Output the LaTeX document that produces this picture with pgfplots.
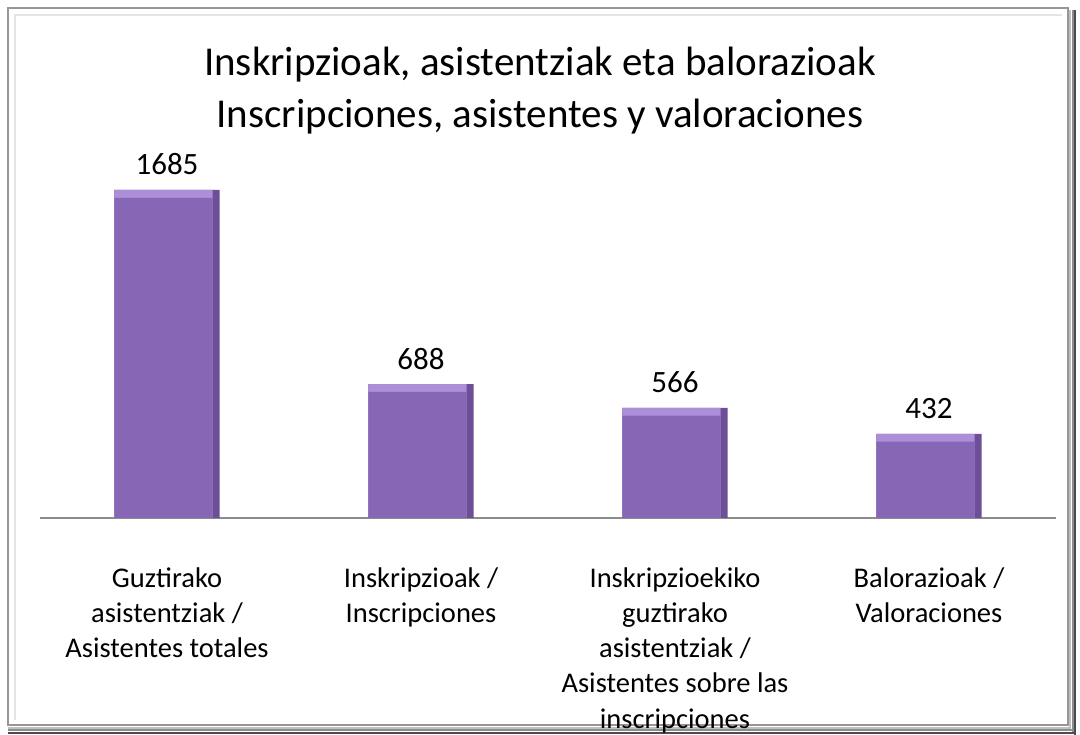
\documentclass[border=0pt]{standalone}
\usepackage{pgfplots}
\pgfplotsset{compat=1.18}
\usepackage{fontspec}
\setmainfont{Carlito}
\definecolor{barmain}{HTML}{8866B6}
\definecolor{barlight}{HTML}{AC8FD8}
\definecolor{bardark}{HTML}{6C4F96}
\definecolor{axisgray}{HTML}{8C8C8C}
\definecolor{frameg}{HTML}{969696}
\pgfdeclarelayer{bg}
\pgfsetlayers{bg,main}
\begin{document}
\begin{tikzpicture}
\begin{axis}[
  scale only axis, width=1016pt, height=350.4pt,
  xmin=-0.5, xmax=3.5, ymin=0, ymax=1800,
  axis x line=bottom, hide y axis,
  x axis line style={axisgray, line width=2.5pt, -},
  xtick={0,1,2,3}, xtick style={draw=none},
  xticklabels={{Guztirako\\asistentziak /\\Asistentes totales},{Inskripzioak /\\Inscripciones},{Inskripzioekiko\\guztirako\\asistentziak /\\Asistentes sobre las\\inscripciones},{Balorazioak /\\Valoraciones}},
  xticklabel style={align=center, font=\fontsize{28.5}{35.2}\selectfont, anchor=north, inner sep=0pt, yshift=-45pt},
  ybar, bar shift=0pt, bar width=105pt,
  /pgf/number format/assume math mode=true,
  /pgf/number format/1000 sep={},
  clip=false,
]
\addplot[draw=none, fill=bardark, nodes near coords,
  every node near coord/.append style={font=\fontsize{31}{36}\selectfont, anchor=base, yshift=15pt, text=black}]
  coordinates {(0,1685) (1,688) (2,566) (3,432)};
\addplot[draw=none, fill=barlight, bar width=98pt, bar shift=-3.5pt]
  coordinates {(0,1685) (1,688) (2,566) (3,432)};
\addplot[draw=none, fill=barmain, bar width=98pt, bar shift=-3.5pt]
  coordinates {(0,1645) (1,648) (2,526) (3,392)};
\coordinate (O) at (axis cs:-0.5,0);
\end{axis}
\begin{pgfonlayer}{bg}
\begin{scope}[shift={(O)}, xshift=-40pt, yshift=-217pt, x=1pt, y=1pt]
\fill[white] (0,0) rectangle (1080,735);
% frame
\draw[line width=2.5pt, frameg] (8,10) rectangle (1068,727);
\draw[line width=2pt, black!10] (15,15) -- (15,720) -- (1062,720);
\draw[line width=2pt, black!25] (1070,4) -- (1070,725);
\draw[line width=2pt, black!45] (1072.5,2) -- (1072.5,725);
\draw[line width=2.5pt, black!70] (1075,0) -- (1075,725);
\draw[line width=2pt, black!25] (8,7) -- (1070,7);
\draw[line width=2pt, black!45] (8,4.5) -- (1073,4.5);
\draw[line width=2.5pt, black!70] (8,2) -- (1075,2);
% title
\node[anchor=base, font=\fontsize{41}{48}\selectfont] at (540,659) {Inskripzioak, asistentziak eta balorazioak};
\node[anchor=base, font=\fontsize{41}{48}\selectfont] at (540,607) {Inscripciones, asistentes y valoraciones};
\end{scope}
\end{pgfonlayer}
\begin{scope}[shift={(O)}, xshift=-40pt, yshift=-217pt, x=1pt, y=1pt]
\pgfresetboundingbox
\path[use as bounding box] (0,0) rectangle (1080,735);
\end{scope}
\end{tikzpicture}
\end{document}
